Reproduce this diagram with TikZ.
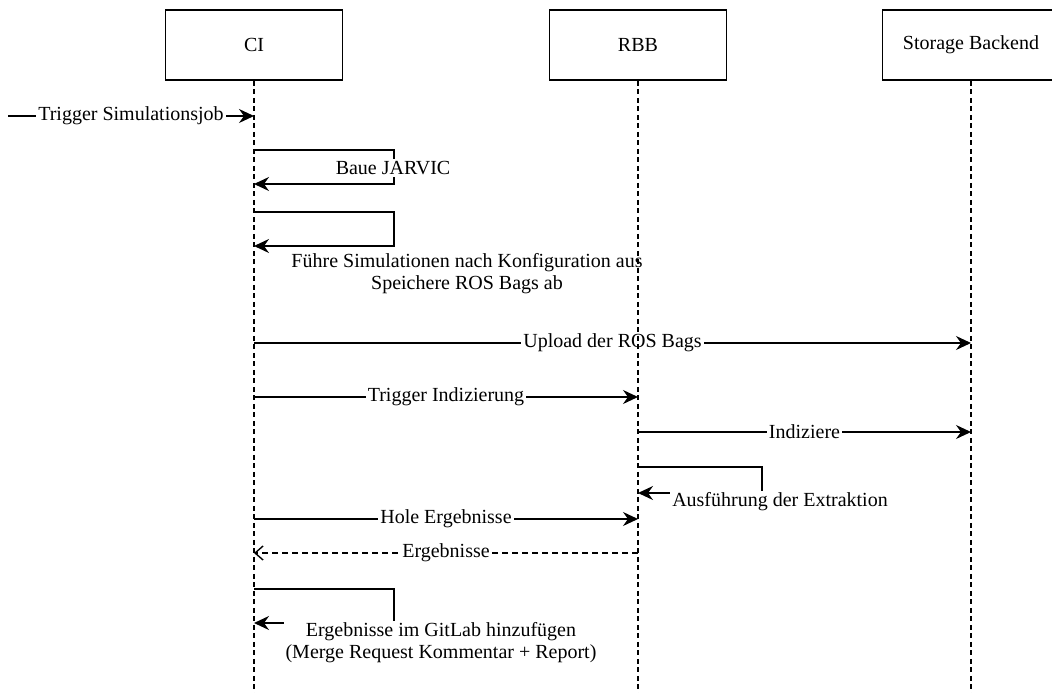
\documentclass[tikz,border=0pt]{standalone}
\usepackage{fontspec}
\setmainfont{Liberation Serif}
\usetikzlibrary{arrows.meta}
\begin{document}
\begin{tikzpicture}[x=1pt,y=-1pt,
    every node/.style={font=\fontsize{20}{22}\selectfont},
    actor/.style={draw,line width=1.5pt,minimum width=177pt,minimum height=70pt},
    life/.style={line width=1.5pt,dash pattern=on 5pt off 3.5pt},
    msg/.style={line width=1.5pt,-{Stealth[length=15pt,width=14pt,inset=5pt]}},
    reply/.style={line width=1.4pt,dash pattern=on 6pt off 4pt,-{Straight Barb[length=8pt,width=14pt]}},
    lbl/.style={fill=white,inner sep=2pt,align=center}]
    \useasboundingbox (0,0) rectangle (1052,693);
    \node[actor] (ci) at (254,45) {CI};
    \node[actor] (rbb) at (638,45) {RBB};
    \node[actor] (sb) at (971,45) {Storage Backend};
    \coordinate (ext) at (8,116);
    % Nachrichten
    \draw[msg] (ext) -- (ci |- ext) node[midway,lbl] {Trigger Simulationsjob};
    \draw[msg] (ci |- 0,150) -| (394,184) -- (ci |- 0,184);
    \node[lbl] (jarvic) at (393,168) {Baue JARVIC};
    \draw[msg] (ci |- 0,212) -| (394,246) -- (ci |- 0,246);
    \node[lbl] (sim) at (467,274) {Führe Simulationen nach Konfiguration aus\\Speichere ROS Bags ab};
    \draw[msg] (ci |- 0,343) -- (sb |- 0,343) node[midway,lbl] {Upload der ROS Bags};
    \draw[msg] (ci |- 0,397) -- (rbb |- 0,397) node[midway,lbl] {Trigger Indizierung};
    \draw[msg] (rbb |- 0,432) -- (sb |- 0,432) node[midway,lbl] {Indiziere};
    \draw[msg] (rbb |- 0,467) -| (762,493) -- (rbb |- 0,493);
    \node[lbl] (extr) at (780,502) {Ausführung der Extraktion};
    \draw[msg] (ci |- 0,519) -- (rbb |- 0,519) node[midway,lbl] {Hole Ergebnisse};
    \draw[reply] (rbb |- 0,553) -- (ci |- 0,553) node[midway,lbl] {Ergebnisse};
    \draw[msg] (ci |- 0,589) -| (394,623) -- (ci |- 0,623);
    \node[lbl] (gitlab) at (441,643) {Ergebnisse im GitLab hinzufügen\\(Merge Request Kommentar + Report)};
    % Lebenslinien
    \draw[life] (ci.south) -- (ci |- 0,693);
    \draw[life] (rbb.south) -- (rbb |- 0,693);
    \draw[life] (sb.south) -- (sb |- 0,693);
\end{tikzpicture}
\end{document}
